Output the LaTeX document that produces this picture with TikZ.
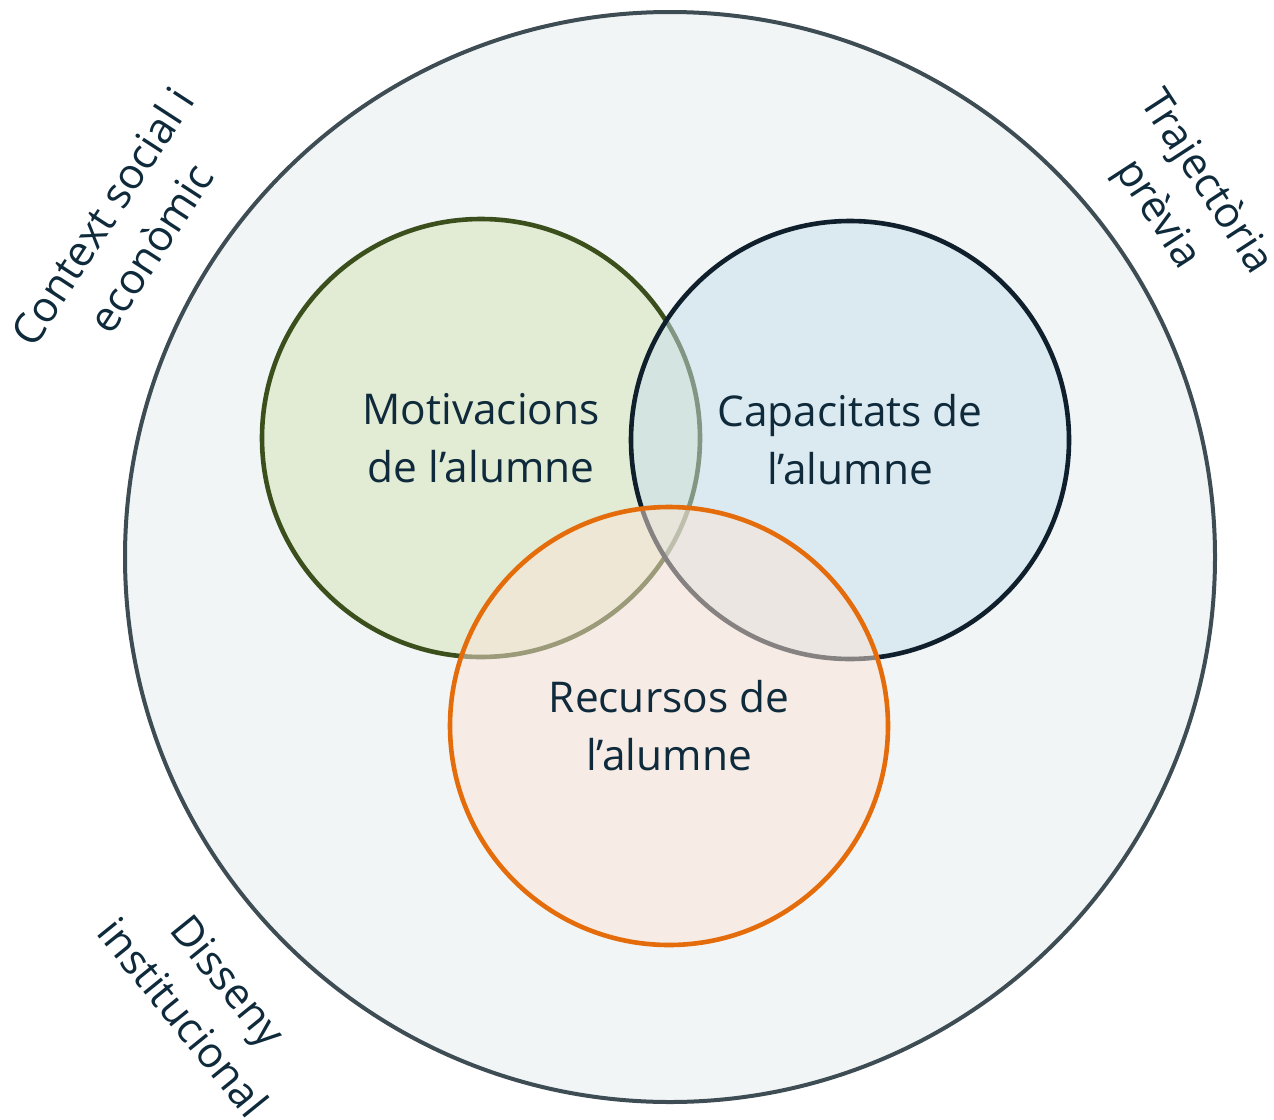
\documentclass[tikz,border=0pt]{standalone}
\usepackage{fontspec}
\setmainfont{Open Sans}
\usetikzlibrary{positioning}
\definecolor{outerfill}{HTML}{F1F5F6}
\definecolor{outerline}{HTML}{3E4C54}
\definecolor{motivline}{HTML}{3B4F1C}
\definecolor{motivfill}{HTML}{D5E3B4}
\definecolor{capline}{HTML}{0F1F2C}
\definecolor{capfill}{HTML}{C7DFEC}
\definecolor{recline}{HTML}{E46C0A}
\definecolor{recfill}{HTML}{FBE5D6}
\definecolor{txt}{HTML}{0E2A3B}
\begin{document}
\begin{tikzpicture}[x=0.5pt, y=-0.5pt]
% STYLES
\tikzset{%
    outer/.style={%
circle,
draw=outerline,
fill=outerfill,
line width=2pt,
minimum size=545pt
                 },
    setcircle/.style={%
circle,
line width=2.3pt,
fill opacity=0.5,
draw opacity=1,
text opacity=1,
minimum size=219pt,
align=center,
text=txt,
font=\fontsize{21.2}{29}\selectfont
                     },
    factor/.style={%
align=center,
text=txt,
inner sep=0pt,
font=\fontsize{21.2}{29}\selectfont
                  }
        }
\useasboundingbox (0,0) rectangle (1274,1119);

% Draw the context
\node [outer] (context) at (670,557) {};
% Draw the three sets
\node [setcircle, draw=motivline, fill=motivfill] (motiv) at (481,438) {Motivacions\\de l’alumne};
\node [setcircle, draw=capline, fill=capfill] (capac) at (850,440) {Capacitats de\\l’alumne};
\node [setcircle, draw=recline, fill=recfill] (recur) at (669,726) {Recursos de\\l’alumne};
% Draw the outer factors
\node [factor, rotate=57] (social) at (126,232) {Context social i\\econòmic};
\node [factor, rotate=-57] (traject) at (1181,199) {Trajectòria\\prèvia};
\node [factor, rotate=-51] (disseny) at (206,999) {Disseny\\institucional};
\end{tikzpicture}
\end{document}
